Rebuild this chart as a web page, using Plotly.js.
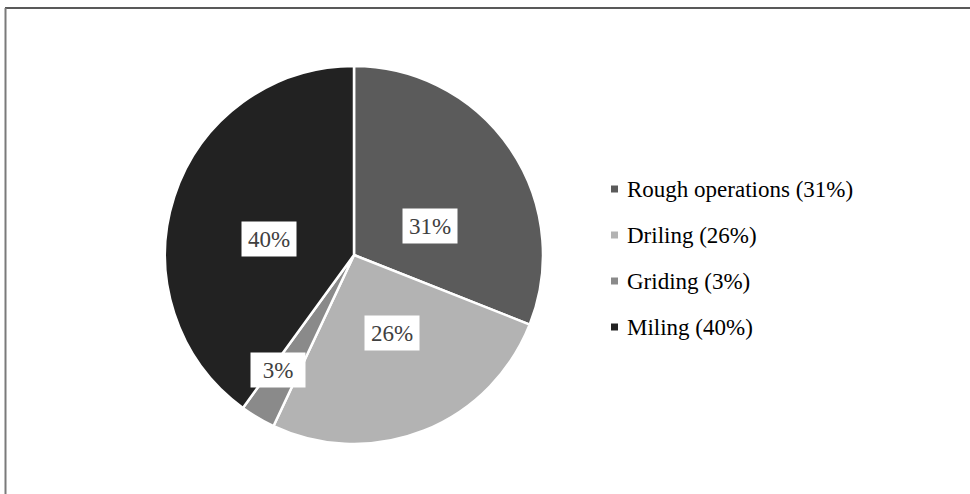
<!DOCTYPE html>
<html>
<head>
<meta charset="utf-8">
<script src="https://cdn.plot.ly/plotly-3.0.1.min.js"></script>
<style>
html,body{margin:0;padding:0;background:#fff;}
#chart{width:970px;height:494px;}
</style>
</head>
<body>
<div id="chart"></div>
<script>
// ---- data ----
var categories = ["Rough operations", "Driling", "Griding", "Miling"];
var values = [31, 26, 3, 40];
var colors = ["#5b5b5b", "#b3b3b3", "#8a8a8a", "#222222"];

// ---- style (label placement tuning) ----
var labelRadius = [0.43, 0.46, 0.73, 0.46];
var labelAngleShift = [13, -4, 3, -7.5];
var serif = "Liberation Serif";

var W = 970, H = 494;
var cx = 354, cy = 255, R = 189;
function px(x){ return x / W; }
function py(y){ return 1 - y / H; }

var total = values.reduce(function(a,b){return a+b;}, 0);
var legendText = categories.map(function(c, i){
  return c + " (" + Math.round(values[i] / total * 100) + "%)";
});

var trace = {
  type: "pie",
  labels: legendText,
  values: values,
  sort: false,
  direction: "clockwise",
  rotation: 0,
  marker: {colors: colors, line: {color: "#ffffff", width: 2.5}},
  textinfo: "none",
  hoverinfo: "label+percent",
  showlegend: false,
  domain: {x: [px(cx - R), px(cx + R)], y: [py(cy + R), py(cy - R)]}
};

var annotations = [];
var shapes = [];
var cum = 0;
values.forEach(function(v, i){
  var mid = (cum + v / 2) / total * 360 + labelAngleShift[i];
  cum += v;
  var a = mid * Math.PI / 180;
  var r = labelRadius[i] * R;
  annotations.push({
    xref: "paper", yref: "paper",
    x: px(cx + r * Math.sin(a)), y: py(cy - r * Math.cos(a)),
    xanchor: "center", yanchor: "middle", showarrow: false,
    text: Math.round(v / total * 100) + "%",
    font: {family: serif, size: 23, color: "#404040"},
    bgcolor: "#ffffff", width: 50, height: 30, borderpad: 2
  });
});

// legend (manual)
var legX = 625, legY0 = 189, legGap = 46, sq = 7;
legendText.forEach(function(t, i){
  var y = legY0 + i * legGap;
  annotations.push({
    xref: "paper", yref: "paper", x: px(legX), y: py(y),
    xanchor: "left", yanchor: "middle", showarrow: false,
    text: t,
    font: {family: serif, size: 23, color: "#000000"}
  });
  shapes.push({
    type: "rect", xref: "paper", yref: "paper",
    x0: px(legX - 14), x1: px(legX - 14 + sq),
    y0: py(y + sq / 2), y1: py(y - sq / 2),
    fillcolor: colors[i], line: {width: 0}
  });
});

// frame lines
shapes.push({type: "line", xref: "paper", yref: "paper",
  x0: px(5), x1: px(970), y0: py(8), y1: py(8), line: {color: "#222222", width: 1.5}});
shapes.push({type: "line", xref: "paper", yref: "paper",
  x0: px(5.5), x1: px(5.5), y0: py(8), y1: py(494), line: {color: "#7a7a7a", width: 2}});

var layout = {
  width: W, height: H,
  margin: {l: 0, r: 0, t: 0, b: 0},
  paper_bgcolor: "#ffffff",
  plot_bgcolor: "#ffffff",
  showlegend: false,
  font: {family: serif},
  annotations: annotations,
  shapes: shapes
};

Plotly.newPlot("chart", [trace], layout, {displayModeBar: false, staticPlot: true});
</script>
</body>
</html>
